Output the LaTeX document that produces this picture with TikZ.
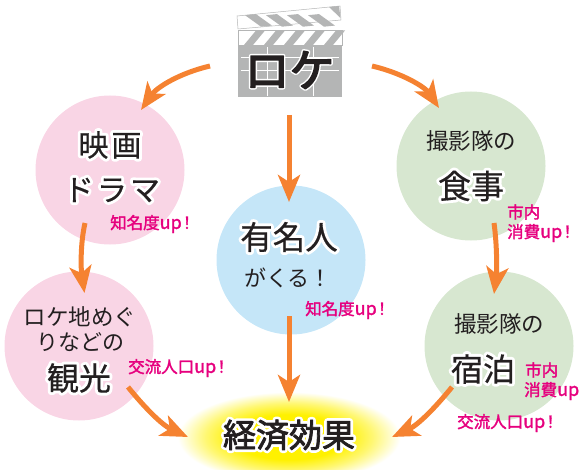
\documentclass[tikz,border=0pt]{standalone}
\usepackage{fontspec}
\usetikzlibrary{arrows.meta,shapes.geometric}
\setmainfont{Noto Sans CJK JP}
\definecolor{orarrow}{HTML}{F58231}
\definecolor{pinkc}{HTML}{F9D5E5}
\definecolor{bluec}{HTML}{C5E6F8}
\definecolor{greenc}{HTML}{D7E7D0}
\definecolor{magtxt}{HTML}{E6007E}
\definecolor{inkc}{HTML}{231F20}
\definecolor{clapg}{HTML}{B4B5B5}
\definecolor{glowy}{HTML}{FFF100}
\pgfdeclareradialshading{glow}{\pgfpoint{0bp}{0bp}}{color(0bp)=(glowy);color(12bp)=(glowy);color(18bp)=(glowy!55!white);color(24bp)=(white);color(50bp)=(white)}
% #1 halo width, #2 ink stroke width, #3 text
\newcommand{\halotxt}[3]{\rlap{\special{pdf:code q 2 Tr #1 w 1 1 1 RG 1 J 1 j}\textcolor{white}{#3}\special{pdf:code 0 Tr Q}}\special{pdf:code q 2 Tr #2 w 0.137 0.122 0.125 RG 1 J 1 j}#3\special{pdf:code 0 Tr Q}}
\newcommand{\magtx}[1]{\special{pdf:code q 2 Tr 0.3 w 0.902 0 0.494 RG 1 J 1 j}#1\special{pdf:code 0 Tr Q}}
\newcommand{\fs}[1]{\fontsize{#1pt}{#1pt}\selectfont}
\newcommand{\upx}{{\fs{18}up}}
\newcommand{\exx}{\kern-3pt！}
\tikzset{
  x=1pt,y=-1pt,
  blob/.style={circle,minimum size=149pt,inner sep=0pt,draw=none},
  lbl/.style={inner sep=0pt,text=inkc,align=center},
  pk/.style={inner sep=0pt,text=magtxt,anchor=west},
  flow/.style={draw=orarrow,line width=5pt,-{Stealth[length=27pt,width=22pt,inset=7pt,fill=orarrow]}},
}
\begin{document}
\begin{tikzpicture}
\useasboundingbox (0,0) rectangle (585,470);
\clip (0,0) rectangle (585,470);
% glow
\node[ellipse,minimum width=232pt,minimum height=94pt,inner sep=0pt,shading=glow] (glowbg) at (289,437) {};
% circles
\node[blob,fill=pinkc] (film) at (110,170) {};
\node[blob,fill=pinkc] (tour) at (79,346) {};
\node[blob,fill=bluec] (star) at (291,260) {};
\node[blob,fill=greenc] (food) at (471,166) {};
\node[blob,fill=greenc] (stay) at (499,346) {};
% clapper
\fill[white,draw=clapg,line width=.5pt] (237,16) -- (340,6) -- (341,20) -- (238,29) -- cycle;
\foreach \a in {0,1,2,3}{
  \fill[clapg] (245+\a*21,15.2) -- (256+\a*21,14.1) -- (272+\a*21,25.6) -- (261+\a*21,26.7) -- cycle;
}
\fill[clapg] (329,7) -- (339,6) -- (340.5,18) -- cycle;
\fill[white,draw=clapg,line width=.5pt] (238,30) rectangle (342,45);
\foreach \a in {0,1,2,3,4}{
  \fill[clapg] (244+\a*20,45) -- (253+\a*20,45) -- (265+\a*20,30.5) -- (256+\a*20,30.5) -- cycle;
}
\node[rectangle,minimum width=104pt,minimum height=52pt,inner sep=0pt,fill=clapg] (clap) at (290,71) {};
\draw[white,line width=.8pt] (241,57) -- (339,57) (241,70) -- (339,70) (267,47) -- (267,96) (313,47) -- (313,96);
\node[lbl] (tloke) at (289.5,70) {\fs{45}\halotxt{4.5}{1.6}{ロケ}};
% labels
\node[lbl] (t1a) at (110,145) {\fs{30}\halotxt{6}{0.15}{映\kern3pt画}};
\node[lbl] (t1b) at (112,190) {\fs{30}\halotxt{6}{0.15}{ド\kern3ptラ\kern3ptマ}};
\node[lbl] (t2a) at (471,141) {\fs{22.5}撮影隊の};
\node[lbl] (t2b) at (471,186) {\fs{33}\halotxt{6}{0.15}{食事}};
\node[lbl] (t3a) at (289,237) {\fs{32.5}\halotxt{6}{0.15}{有名人}};
\node[lbl] (t3b) at (288,278) {\fs{22}がくる！};
\node[lbl] (t4a) at (80,317) {\fs{22.5}ロケ地めぐ};
\node[lbl] (t4b) at (80,342) {\fs{22}りなどの};
\node[lbl] (t4c) at (79,378) {\fs{32}\halotxt{6}{0.15}{観光}};
\node[lbl] (t5a) at (499,324) {\fs{22.5}撮影隊の};
\node[lbl] (t5b) at (483,369) {\fs{32}\halotxt{6}{0.15}{宿泊}};
\node[lbl] (t6) at (289,435) {\fs{33}\halotxt{6}{0.8}{経済効果}};
% pink
\node[pk] (p1) at (110,224) {\fs{16.5}\magtx{知名度\upx\exx}};
\node[pk] (p2) at (305,310) {\fs{16.5}\magtx{知名度\upx\exx}};
\node[pk] (p3) at (128,368) {\fs{16.5}\magtx{交流人口\upx\exx}};
\node[pk] (p4a) at (507,212) {\fs{16.5}\magtx{市内}};
\node[pk] (p4b) at (507,233) {\fs{16.5}\magtx{消費\upx\exx}};
\node[pk] (p5a) at (525,370) {\fs{16.5}\magtx{市内}};
\node[pk] (p5b) at (524,391) {\fs{16.5}\magtx{消費\upx}};
\node[pk] (p6) at (457,423) {\fs{16.5}\magtx{交流人口\upx\exx}};
% connector ends
\coordinate (c1s) at (210,66); \coordinate (c1t) at (141,110);
\coordinate (c2s) at (372,66); \coordinate (c2t) at (439,108);
\coordinate (c3s) at (289,115); \coordinate (c3t) at (289,202);
\coordinate (c4s) at (85,223); \coordinate (c4t) at (84.5,293);
\coordinate (c5s) at (494,223); \coordinate (c5t) at (494,294);
\coordinate (c6s) at (289,316); \coordinate (c6t) at (289,402);
\coordinate (c7s) at (128,387); \coordinate (c7t) at (188,437);
\coordinate (c8s) at (452,387); \coordinate (c8t) at (392,437);
\draw[flow] (c1s) .. controls (180,73) and (157,87) .. (c1t);
\draw[flow] (c2s) .. controls (402,73) and (425,87) .. (c2t);
\draw[flow] (c3s) -- (c3t);
\draw[flow] (c4s) .. controls (80,245) and (81,270) .. (c4t);
\draw[flow] (c5s) .. controls (497,245) and (497,270) .. (c5t);
\draw[flow] (c6s) -- (c6t);
\draw[flow] (c7s) .. controls (145,408) and (162,425) .. (c7t);
\draw[flow] (c8s) .. controls (435,408) and (418,425) .. (c8t);
\end{tikzpicture}
\end{document}
